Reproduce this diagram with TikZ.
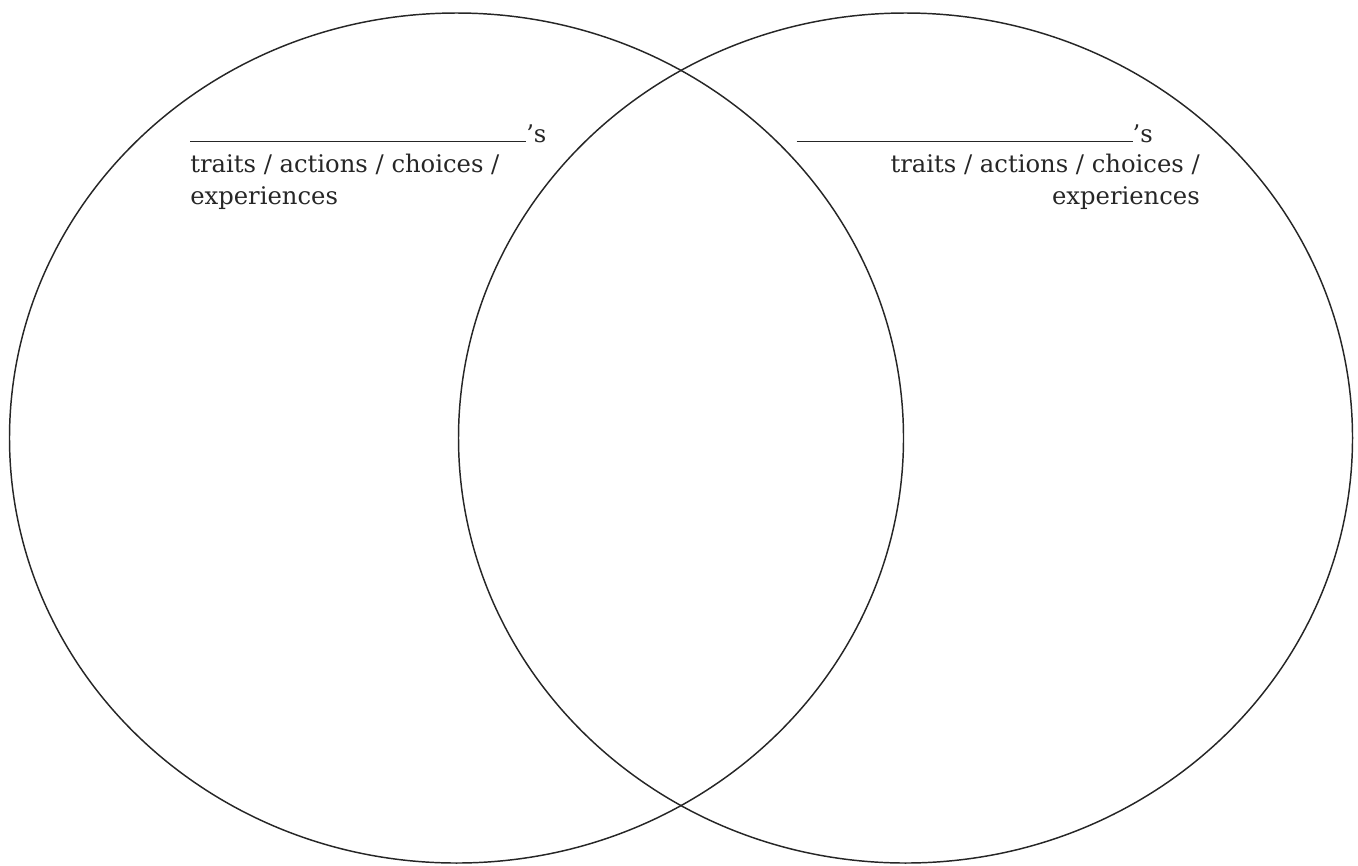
\documentclass[tikz,border=0pt]{standalone}
\usepackage{fontspec}
\setmainfont{DejaVu Serif}
\usetikzlibrary{shapes.geometric}
\definecolor{ink}{HTML}{262626}
\begin{document}
\begin{tikzpicture}[x=0.75pt,y=-0.75pt,
  venn/.style={ellipse, draw=ink, line width=1.1pt, inner sep=0pt, outer sep=0pt,
    minimum width=670.5pt, minimum height=637.5pt},
  lbl/.style={font=\fontsize{18.2}{22}\selectfont, text=ink, inner sep=0pt}]
\useasboundingbox (0,0) rectangle (1358,865);
\node[venn] (L) at (456.5,438) {};
\node[venn] (R) at (905.5,438) {};
% left labels
\node[lbl, anchor=base west] (lt) at (190,142) {\rule{252pt}{0.8pt}'s};
\node[lbl, anchor=base west] (l1) at (190,172) {traits / actions / choices /};
\node[lbl, anchor=base west] (l2) at (190,204) {experiences};
% right labels
\node[lbl, anchor=base east] (rt) at (1153,142) {\rule{252pt}{0.8pt}'s};
\node[lbl, anchor=base east] (r1) at (1200,172) {traits / actions / choices /};
\node[lbl, anchor=base east] (r2) at (1200,204) {experiences};
\end{tikzpicture}
\end{document}
